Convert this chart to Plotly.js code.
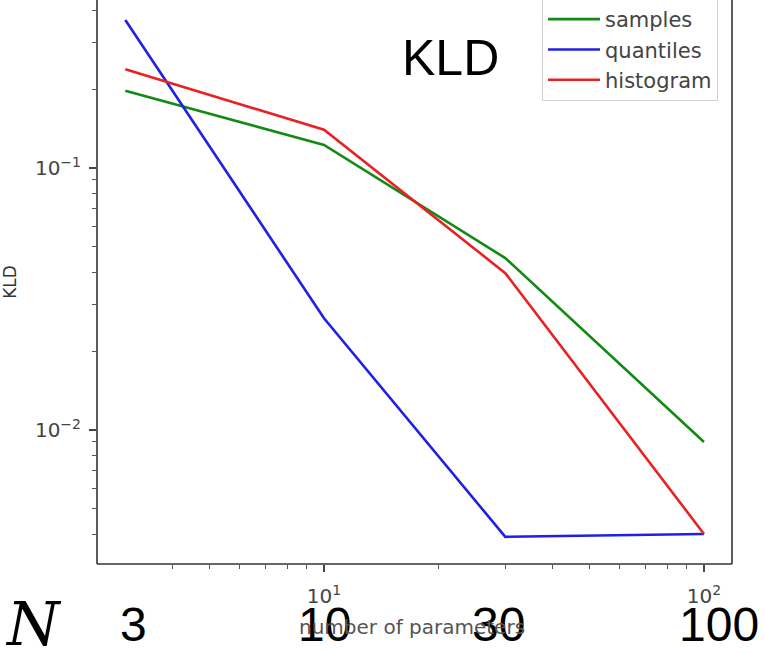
<!DOCTYPE html>
<html>
<head>
<meta charset="utf-8">
<script src="https://cdn.plot.ly/plotly-3.0.1.min.js"></script>
<style>html,body{margin:0;padding:0;background:#fff;}#chart{width:764px;height:653px;}</style>
</head>
<body>
<div id="chart"></div>
<script>
// Data
const nParams = [3, 10, 30, 100];
const samplesKLD = [0.197, 0.1225, 0.0453, 0.0090];
const quantilesKLD = [0.367, 0.0267, 0.00391, 0.00401];
const histogramKLD = [0.238, 0.140, 0.0397, 0.00401];
const seriesNames = ["samples", "quantiles", "histogram"];
const xTickVals = [10, 100];
const xTickText = ["10<sup>1</sup>", "10<sup>2</sup>"];
const yTickVals = [0.01, 0.1];
const yTickText = ["10<sup>\u22122</sup>", "10<sup>\u22121</sup>"];
const overlayLabels = ["3", "10", "30", "100"];

const W = 764, H = 653;
const L = 97, R = 732, T = 0, B = 564;
const px = x => (x - L) / (R - L);
const py = y => (B - y) / (B - T);

const traces = [
  {x: nParams, y: samplesKLD, name: seriesNames[0], type: 'scatter', mode: 'lines', line: {color: '#138a13', width: 2.6}},
  {x: nParams, y: quantilesKLD, name: seriesNames[1], type: 'scatter', mode: 'lines', line: {color: '#1f1fe6', width: 2.6}},
  {x: nParams, y: histogramKLD, name: seriesNames[2], type: 'scatter', mode: 'lines', line: {color: '#e82222', width: 2.6}}
];

const minorX = [4,5,6,7,8,9,20,30,40,50,60,70,80,90];
const minorY = [0.004,0.005,0.006,0.007,0.008,0.009,0.02,0.03,0.04,0.05,0.06,0.07,0.08,0.09,0.2,0.3,0.4];

const tickFont = {family: 'DejaVu Sans', size: 20, color: '#444'};

const overlayX = [133, 324, 498, 719];
const annotations = overlayLabels.map((t, i) => ({
  text: t, xref: 'paper', yref: 'paper', x: px(overlayX[i]), y: py(624), xanchor: 'center', yanchor: 'middle',
  showarrow: false, font: {family: 'Liberation Sans, Arial', size: 48, color: '#000'}
}));
annotations.push({text: 'KLD', xref: 'paper', yref: 'paper', x: px(450), y: py(58), xanchor: 'center', yanchor: 'middle',
  showarrow: false, font: {family: 'Liberation Sans, Arial', size: 50, color: '#000'}});
annotations.push({text: '<i>N</i>', xref: 'paper', yref: 'paper', x: px(33), y: py(624), xanchor: 'center', yanchor: 'middle',
  showarrow: false, font: {family: 'DejaVu Serif, Liberation Serif', size: 60, color: '#000'}});
annotations.push({text: 'number of parameters', xref: 'paper', yref: 'paper', x: px(412), y: py(627), xanchor: 'center', yanchor: 'middle',
  showarrow: false, font: {family: 'DejaVu Sans', size: 20, color: '#555'}});

const layout = {
  width: W, height: H,
  margin: {l: L, r: W - R, t: T, b: H - B, autoexpand: false},
  paper_bgcolor: '#fff', plot_bgcolor: '#fff',
  showlegend: true,
  legend: {x: px(542), y: py(-2), xanchor: 'left', yanchor: 'top', bgcolor: '#fff', bordercolor: '#d0d0d0', borderwidth: 1,
    font: {family: 'DejaVu Sans', size: 21, color: '#444'}, tracegroupgap: 0, itemwidth: 52},
  xaxis: {type: 'log', range: [0.4026, 2.0737], showgrid: false, zeroline: false, showline: false,
    tickmode: 'array', tickvals: xTickVals, ticktext: xTickText, ticks: 'outside', ticklen: 7, tickwidth: 1.3, tickcolor: '#444',
    tickfont: tickFont, ticklabelstandoff: 7,
    minor: {tickmode: 'array', tickvals: minorX, ticks: 'outside', ticklen: 4, tickwidth: 1, tickcolor: '#555', showgrid: false}},
  yaxis: {type: 'log', range: [-2.5115, -0.3588], showgrid: false, zeroline: false, showline: false,
    tickmode: 'array', tickvals: yTickVals, ticktext: yTickText, ticks: 'outside', ticklen: 7, tickwidth: 1.3, tickcolor: '#444',
    tickfont: tickFont, ticklabelstandoff: 4,
    title: {text: 'KLD', font: {family: 'DejaVu Sans', size: 17, color: '#333'}, standoff: 18},
    minor: {tickmode: 'array', tickvals: minorY, ticks: 'outside', ticklen: 4, tickwidth: 1, tickcolor: '#555', showgrid: false}},
  shapes: [
    {type: 'line', xref: 'paper', yref: 'paper', x0: 0, x1: 0, y0: 0, y1: 1, line: {color: '#333', width: 1.6}},
    {type: 'line', xref: 'paper', yref: 'paper', x0: 1, x1: 1, y0: 0, y1: 1, line: {color: '#333', width: 1.6}},
    {type: 'line', xref: 'paper', yref: 'paper', x0: 0, x1: 1, y0: 0, y1: 0, line: {color: '#333', width: 1.6}}
  ],
  annotations: annotations
};

Plotly.newPlot('chart', traces, layout, {displayModeBar: false, staticPlot: true});
</script>
</body>
</html>
